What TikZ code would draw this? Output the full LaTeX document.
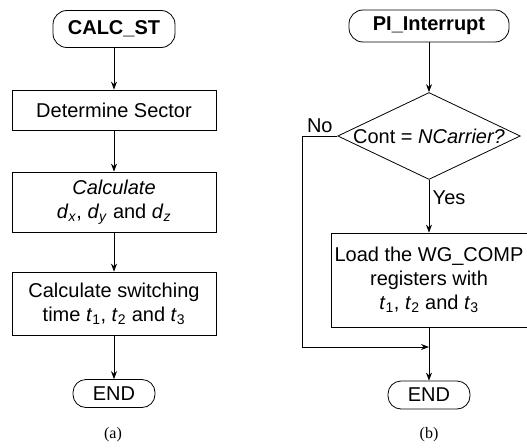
\documentclass[tikz,border=0pt]{standalone}
\usepackage{fontspec}
\setmainfont{Liberation Sans}
\newfontfamily\captionfont{Liberation Serif}
\usetikzlibrary{shapes.geometric, arrows.meta, positioning}
\newcommand{\subvar}[2]{\textit{#1}\textsubscript{\textit{#2}}}
\newcommand{\subnum}[2]{\textit{#1}\textsubscript{#2}}
\tikzstyle{startstop} = [rectangle, rounded corners=14pt, minimum width=122pt, minimum height=37pt, text centered, draw=black, font=\fontsize{20}{24}\selectfont\bfseries]
\tikzstyle{finish} = [rectangle, rounded corners=13pt, minimum width=82pt, minimum height=28pt, text centered, draw=black]
\tikzstyle{process} = [rectangle, minimum width=204pt, text centered, align=center, draw=black]
\tikzstyle{decision} = [diamond, aspect=2.1, inner sep=0pt, text centered, draw=black]
\tikzstyle{caption} = [font=\captionfont\fontsize{16}{18}\selectfont]
\tikzstyle{arrow} = [line width=0.8pt,->,>={Stealth[length=8pt,width=6pt]}]

\begin{document}
\begin{tikzpicture}[node distance=90pt, line width=0.8pt, font=\fontsize{20}{24}\selectfont]
    \useasboundingbox (0,0) rectangle (527pt,-447pt);

        % (a)
        \node (calcst) [startstop] at (114pt,-29pt) {CALC\_ST};
        \node (sector) [process, minimum height=40pt, below of=calcst, yshift=9pt] {Determine Sector};
        \node (calcd) [process, minimum height=60pt, below of=sector, yshift=-2pt] {\textit{Calculate}\\ \subvar{d}{x}, \subvar{d}{y} and \subvar{d}{z}};
        \node (switch) [process, minimum height=63pt, below of=calcd, yshift=-11.5pt] {Calculate switching\\ time \subnum{t}{1}, \subnum{t}{2} and \subnum{t}{3}};
        \node (enda) [finish, below of=switch] {END};
        \node (capa) [caption] at (113pt,-435pt) {(a)};

        \draw [arrow] (calcst) -- (sector);
        \draw [arrow] (sector) -- (calcd);
        \draw [arrow] (calcd) -- (switch);
        \draw [arrow] (switch) -- (enda);

        % (b)
        \node (pi) [startstop, minimum width=160pt, minimum height=32pt] at (429pt,-26pt) {PI\_Interrupt};
        \node (cont) [decision, below of=pi, yshift=-20pt] {Cont = \textit{NCarrier?}};
        \node (load) [process, minimum width=196pt, minimum height=94pt, below of=cont, yshift=-54pt] {Load the WG\_COMP\\ registers with\\ \subnum{t}{1}, \subnum{t}{2} and \subnum{t}{3}};
        \node (endb) [finish, below of=load, yshift=-25pt] {END};
        \coordinate (merge) at (429pt,-347pt);
        \node (capb) [caption] at (429pt,-435pt) {(b)};

        \draw [arrow] (pi) -- (cont);
        \draw [arrow] (cont) -- node[anchor=west, pos=0.33] {Yes} (load);
        \draw [arrow] (cont.west) -- node[anchor=south] {No} ++(-35pt,0) |- (merge);
        \draw [arrow] (load) -- (endb);

    \end{tikzpicture}
\end{document}
